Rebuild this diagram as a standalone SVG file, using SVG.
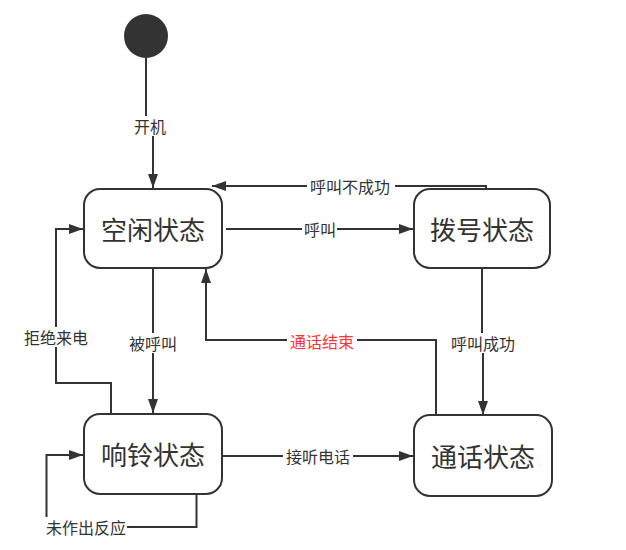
<svg xmlns="http://www.w3.org/2000/svg" width="626" height="550" viewBox="0 0 626 550">
<style>
.node rect{fill:#fff;stroke:#333;stroke-width:2}
.node text{font-family:"Noto Sans CJK SC","Noto Sans",sans-serif;font-size:26px;fill:#333;text-anchor:middle;dominant-baseline:central}
.edge{fill:none;stroke:#333;stroke-width:2}
.lbl rect{fill:#fff}
.lbl text{font-family:"Noto Sans CJK SC","Noto Sans",sans-serif;font-size:16px;fill:#333;text-anchor:middle;dominant-baseline:central}
.lbl text.red{fill:#ff3333}
</style>
<defs>
<marker id="arr" markerUnits="userSpaceOnUse" markerWidth="14" markerHeight="10" refX="14" refY="5" orient="auto" viewBox="0 0 14 10">
<path d="M0,0 L14,5 L0,10 z" fill="#333"/>
</marker>
</defs>
<g id="start"><circle cx="146" cy="36" r="22" fill="#333"/></g>
<g id="connectors">
<path class="edge" d="M146,58 V125 H153 V188" marker-end="url(#arr)"/>
<path class="edge" d="M226,229 H413" marker-end="url(#arr)"/>
<path class="edge" d="M486,188 V186 H212" marker-end="url(#arr)"/>
<path class="edge" d="M482,268 V343 H483 V415" marker-end="url(#arr)"/>
<path class="edge" d="M436,415 V340 H206 V269" marker-end="url(#arr)"/>
<path class="edge" d="M153,268 V413" marker-end="url(#arr)"/>
<path class="edge" d="M111,414 V383 H56 V229 H83" marker-end="url(#arr)"/>
<path class="edge" d="M222,456 H413" marker-end="url(#arr)"/>
<path class="edge" d="M196.5,494 V527 H46.5 V455 H83" marker-end="url(#arr)"/>
</g>
<g id="labels">
<g class="lbl"><rect x="131" y="116" width="38" height="20"/><text x="150" y="126">开机</text></g>
<g class="lbl"><rect x="302" y="219" width="35" height="20"/><text x="320" y="229">呼叫</text></g>
<g class="lbl"><rect x="307" y="176" width="88" height="20"/><text x="350" y="186">呼叫不成功</text></g>
<g class="lbl"><rect x="448" y="333" width="70" height="20"/><text x="483" y="343">呼叫成功</text></g>
<g class="lbl"><rect x="287" y="331" width="70" height="20"/><text class="red" x="322" y="341">通话结束</text></g>
<g class="lbl"><rect x="127" y="333" width="52" height="20"/><text x="153" y="343">被呼叫</text></g>
<g class="lbl"><rect x="22" y="327" width="68" height="20"/><text x="56" y="337">拒绝来电</text></g>
<g class="lbl"><rect x="283" y="446" width="70" height="20"/><text x="318" y="456">接听电话</text></g>
<g class="lbl"><rect x="43" y="517" width="84" height="20"/><text x="86" y="527">未作出反应</text></g>
</g>
<g id="idle" class="node"><rect x="84" y="189" width="138" height="79" rx="16"/><text x="153" y="228">空闲状态</text></g>
<g id="dialing" class="node"><rect x="414" y="189" width="136" height="79" rx="16"/><text x="482" y="228">拨号状态</text></g>
<g id="ringing" class="node"><rect x="84" y="414" width="138" height="80" rx="16"/><text x="153" y="453">响铃状态</text></g>
<g id="talking" class="node"><rect x="414" y="415" width="138" height="81" rx="16"/><text x="483" y="455">通话状态</text></g>
</svg>
